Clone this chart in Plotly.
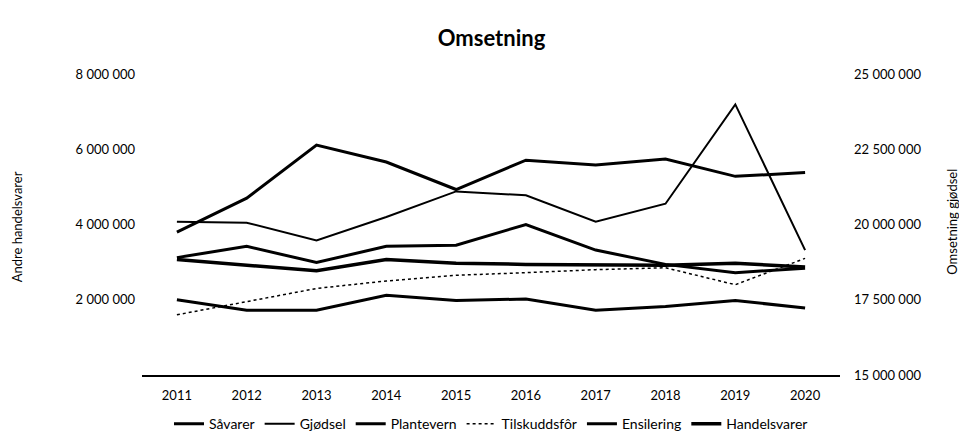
import plotly.graph_objects as go

years = ["2011", "2012", "2013", "2014", "2015", "2016", "2017", "2018", "2019", "2020"]

savarer = [3120000, 3420000, 2990000, 3420000, 3450000, 4000000, 3320000, 2940000, 2720000, 2840000]
gjodsel = [20090000, 20060000, 19470000, 20250000, 21100000, 20970000, 20090000, 20690000, 23990000, 19150000]
plantevern = [3800000, 4700000, 6110000, 5660000, 4930000, 5710000, 5580000, 5740000, 5280000, 5380000]
tilskuddsfor = [1600000, 1950000, 2300000, 2500000, 2650000, 2720000, 2800000, 2850000, 2400000, 3100000]
ensilering = [2000000, 1720000, 1720000, 2120000, 1980000, 2020000, 1720000, 1820000, 1980000, 1780000]
handelsvarer = [3070000, 2920000, 2770000, 3070000, 2970000, 2940000, 2920000, 2920000, 2970000, 2870000]

left_ticks = [2000000, 4000000, 6000000, 8000000]
right_ticks = [15000000, 17500000, 20000000, 22500000, 25000000]

FONT = "Lato"

fig = go.Figure()
fig.add_trace(go.Scatter(x=years, y=savarer, name="Såvarer", mode="lines",
                         line=dict(color="black", width=3)))
fig.add_trace(go.Scatter(x=years, y=gjodsel, name="Gjødsel", mode="lines", yaxis="y2",
                         line=dict(color="black", width=2)))
fig.add_trace(go.Scatter(x=years, y=plantevern, name="Plantevern", mode="lines",
                         line=dict(color="black", width=3)))
fig.add_trace(go.Scatter(x=years, y=tilskuddsfor, name="Tilskuddsfôr", mode="lines",
                         line=dict(color="black", width=1.5, dash="dot")))
fig.add_trace(go.Scatter(x=years, y=ensilering, name="Ensilering", mode="lines",
                         line=dict(color="black", width=3)))
fig.add_trace(go.Scatter(x=years, y=handelsvarer, name="Handelsvarer", mode="lines",
                         line=dict(color="black", width=3.5)))

fig.update_layout(
    width=967, height=444,
    margin=dict(l=134, r=135, t=66, b=60),
    paper_bgcolor="white", plot_bgcolor="white",
    separators=", ",
    font=dict(family=FONT, size=12, color="black"),
    title=dict(text="<b>Omsetning</b>", x=0.5, xanchor="center", y=1 - 30 / 444,
               yanchor="middle", font=dict(family=FONT, size=22, color="black")),
    showlegend=True,
    legend=dict(orientation="h", x=0.5, xanchor="center", y=-52 / 318, yanchor="middle",
                font=dict(family=FONT, size=14, color="black"), itemwidth=30,
                bgcolor="rgba(0,0,0,0)"),
    xaxis=dict(type="category", range=[-0.5, 9.5], showline=True, linecolor="black",
               linewidth=1.5, showgrid=False, ticks="", ticklabelstandoff=8,
               tickfont=dict(family=FONT, size=13, color="black")),
    yaxis=dict(range=[0, 8000000], tickvals=left_ticks, tickformat=",d", showgrid=False,
               zeroline=False, showline=False, ticks="", ticklabelstandoff=6,
               tickfont=dict(family=FONT, size=13, color="black")),
    yaxis2=dict(range=[15000000, 25000000], tickvals=right_ticks, tickformat=",d",
                overlaying="y", side="right", showgrid=False, zeroline=False,
                showline=False, ticks="", ticklabelstandoff=13,
                tickfont=dict(family=FONT, size=13, color="black")),
    annotations=[
        dict(text="Andre handelsvarer", xref="paper", yref="paper",
             x=(9 - 134) / 698, y=(384 - 228) / 318, textangle=-90, showarrow=False,
             xanchor="center", yanchor="middle", font=dict(family=FONT, size=13, color="black")),
        dict(text="Omsetning gjødsel", xref="paper", yref="paper",
             x=(944 - 134) / 698, y=(384 - 222) / 318, textangle=-90, showarrow=False,
             xanchor="center", yanchor="middle", font=dict(family=FONT, size=13, color="black")),
    ],
)

fig.write_html("out.html")
